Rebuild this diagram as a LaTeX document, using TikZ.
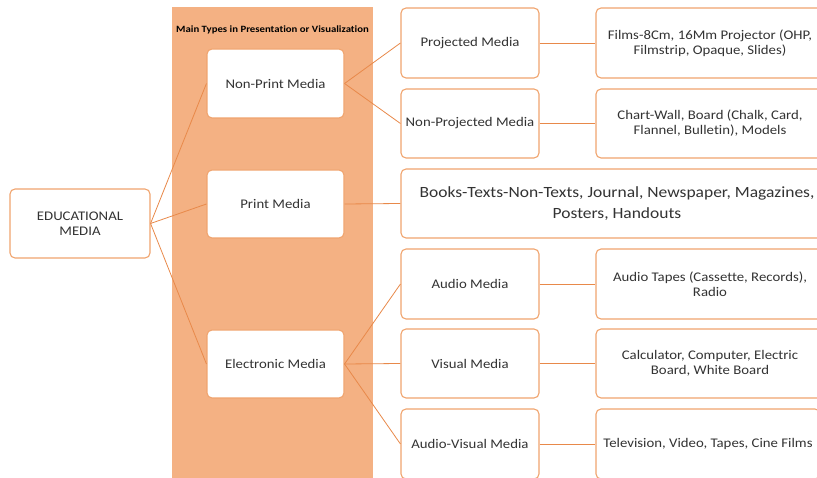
\documentclass[tikz,border=0pt]{standalone}
\usepackage{fontspec}
\setmainfont{Carlito}[FakeStretch=1.12,Ligatures=NoCommon]
\definecolor{band}{HTML}{F4B183}
\definecolor{edge}{HTML}{F0A46E}
\definecolor{wire}{HTML}{E8894A}
\definecolor{ink}{HTML}{333333}
\begin{document}
\begin{tikzpicture}[x=1pt,y=-1pt,
  box/.style={draw=edge,line width=1.1pt,fill=white,rounded corners=5pt,
    inner sep=0pt,text=ink,font=\fontsize{13.2}{15}\selectfont,align=center},
  wire/.style={draw=wire,line width=0.8pt}]
\useasboundingbox (0,0) rectangle (817,478);
\clip (0,0) rectangle (817,478);
% shaded column behind the main types
\fill[band] (172,7) rectangle (373,480);
\node[text=black,font=\fontsize{9.6}{10}\selectfont\bfseries] (title) at (272.5,30) {Main Types in Presentation or Visualization};
% root
\node[box,minimum width=140pt,minimum height=69pt] (root) at (80,223.5) {EDUCATIONAL\\MEDIA};
% main types
\node[box,minimum width=137pt,minimum height=69pt] (np) at (275.5,83.5) {Non-Print Media};
\node[box,minimum width=137pt,minimum height=68pt] (pm) at (275.5,204) {Print Media};
\node[box,minimum width=137pt,minimum height=68pt] (em) at (275.5,364) {Electronic Media};
% sub types
\node[box,minimum width=138pt,minimum height=70pt] (pj) at (470,43) {Projected Media};
\node[box,minimum width=138pt,minimum height=69pt] (npj) at (470,123.5) {Non-Projected Media};
\node[box,minimum width=138pt,minimum height=70pt] (au) at (470,284) {Audio Media};
\node[box,minimum width=138pt,minimum height=69pt] (vi) at (470,363.5) {Visual Media};
\node[box,minimum width=138pt,minimum height=70pt] (av) at (470,444) {Audio-Visual Media};
% examples (their right ends run past the page edge)
\node[box,minimum width=228pt,minimum height=70pt] (pjx) at (710,43) {Films-8Cm, 16Mm Projector (OHP,\\Filmstrip, Opaque, Slides)};
\node[box,minimum width=228pt,minimum height=69pt] (npjx) at (710,123.5) {Chart-Wall, Board (Chalk, Card,\\Flannel, Bulletin), Models};
\node[box,minimum width=432pt,minimum height=69pt,font=\fontsize{15.6}{20.5}\selectfont] (pmx) at (617,203.5) {Books-Texts-Non-Texts, Journal, Newspaper, Magazines,\\Posters, Handouts};
\node[box,minimum width=228pt,minimum height=70pt] (aux) at (710,284) {Audio Tapes (Cassette, Records),\\Radio};
\node[box,minimum width=228pt,minimum height=69pt] (vix) at (710,363.5) {Calculator, Computer, Electric\\Board, White Board};
\node[box,minimum width=224pt,minimum height=70pt] (avx) at (708,444) {Television, Video, Tapes, Cine Films};
% connectors
\draw[wire] (root.east) -- (np.west);
\draw[wire] (root.east) -- (pm.west);
\draw[wire] (root.east) -- (em.west);
\draw[wire] (np.east) -- (pj.west);
\draw[wire] (np.east) -- (npj.west);
\draw[wire] (pm.east) -- (pmx.west);
\draw[wire] (em.east) -- (au.west);
\draw[wire] (em.east) -- (vi.west);
\draw[wire] (em.east) -- (av.west);
\draw[wire] (pj.east) -- (pjx.west);
\draw[wire] (npj.east) -- (npjx.west);
\draw[wire] (au.east) -- (aux.west);
\draw[wire] (vi.east) -- (vix.west);
\draw[wire] (av.east) -- (avx.west);
\end{tikzpicture}
\end{document}
